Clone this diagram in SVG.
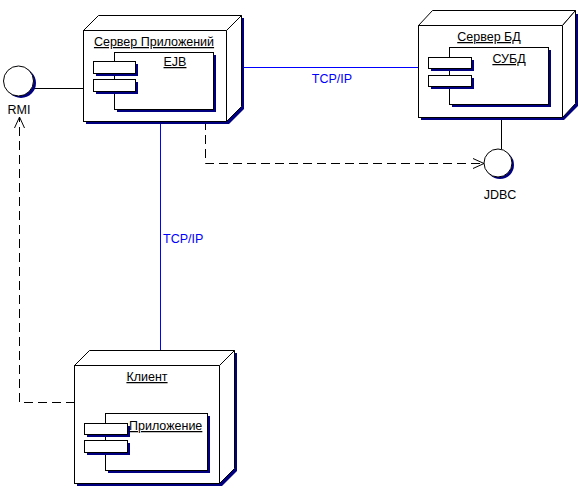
<svg xmlns="http://www.w3.org/2000/svg" width="582" height="496" viewBox="0 0 582 496">
<defs>
<style>
.f{fill:#fff;stroke:#000;stroke-width:1}
.sh{fill:#000080;stroke:none}
.t{font-family:"Liberation Sans",Arial,sans-serif;font-size:12.5px;fill:#000}
.u{text-decoration:underline}
.b{fill:#0000ff}
.ln{stroke:#000;stroke-width:1;fill:none}
.bl{stroke:#0000ff;stroke-width:1;fill:none}
.d{stroke:#000;stroke-width:1;fill:none;stroke-dasharray:9,5}
</style>
<marker id="open" markerWidth="14" markerHeight="12" refX="12" refY="6" orient="auto" markerUnits="userSpaceOnUse">
<path d="M1,1 L12,6 L1,11" fill="none" stroke="#000" stroke-width="1"/>
</marker>
</defs>
<rect width="582" height="496" fill="#fff"/>

<g id="connectors">
<line class="ln" x1="33" y1="88.5" x2="93" y2="88.5"/>
<line class="bl" x1="241" y1="67.5" x2="418" y2="67.5"/>
<text class="t b" x="332" y="83" text-anchor="middle">TCP/IP</text>
<line class="bl" x1="160.5" y1="121" x2="160.5" y2="350"/>
<text class="t b" x="163" y="243">TCP/IP</text>
<line class="ln" x1="501.5" y1="104" x2="501.5" y2="149"/>
<polyline class="d" points="205.5,121 205.5,163.5 484,163.5" marker-end="url(#open)"/>
<polyline class="d" points="75,402.5 19.5,402.5 19.5,117" marker-end="url(#open)"/>
</g>

<g id="rmi">
<circle class="sh" cx="21" cy="83" r="15"/>
<circle class="f" cx="18.5" cy="81" r="15"/>
<text class="t" x="19" y="114" text-anchor="middle">RMI</text>
</g>

<g id="jdbc">
<circle class="sh" cx="500" cy="165" r="14"/>
<circle class="f" cx="498" cy="163" r="14"/>
<text class="t" x="500" y="199" text-anchor="middle">JDBC</text>
</g>

<g id="app-server">
<polygon class="sh" points="86,124 86,33 101,18 244,18 244,109 229,124"/>
<rect class="f" x="83.5" y="30.5" width="143" height="91"/>
<polygon class="f" points="83.5,30.5 98.5,15.5 241.5,15.5 226.5,30.5"/>
<polygon class="f" points="226.5,30.5 241.5,15.5 241.5,106.5 226.5,121.5"/>
<text class="t u" x="154" y="46" text-anchor="middle">Сервер Приложений</text>
<g id="ejb">
<rect class="sh" x="117" y="55" width="99" height="57"/>
<rect class="f" x="114.5" y="52.5" width="99" height="57"/>
<rect class="sh" x="96" y="64" width="42" height="12"/>
<rect class="f" x="93.5" y="61.5" width="42" height="12"/>
<rect class="sh" x="96" y="82" width="42" height="12"/>
<rect class="f" x="93.5" y="79.5" width="42" height="12"/>
<text class="t u" x="175" y="66" text-anchor="middle">EJB</text>
</g>
</g>

<g id="db-server">
<polygon class="sh" points="421,120 421,28 435,14 578,14 578,106 564,120"/>
<rect class="f" x="418.5" y="25.5" width="144" height="92"/>
<polygon class="f" points="418.5,25.5 432.5,10.5 575.5,10.5 562.5,25.5"/>
<polygon class="f" points="562.5,25.5 575.5,10.5 575.5,103.5 562.5,117.5"/>
<text class="t u" x="489" y="41" text-anchor="middle">Сервер БД</text>
<g id="subd">
<rect class="sh" x="452" y="50" width="99" height="57"/>
<rect class="f" x="449.5" y="47.5" width="99" height="57"/>
<rect class="sh" x="431" y="60" width="43" height="11"/>
<rect class="f" x="428.5" y="57.5" width="43" height="11"/>
<rect class="sh" x="431" y="78" width="43" height="11"/>
<rect class="f" x="428.5" y="75.5" width="43" height="11"/>
<text class="t u" x="509" y="63" text-anchor="middle">СУБД</text>
</g>
</g>

<g id="client">
<polygon class="sh" points="77,486 77,368 92,353 237,353 237,471 222,486"/>
<rect class="f" x="74.5" y="365.5" width="145" height="118"/>
<polygon class="f" points="74.5,365.5 89.5,350.5 234.5,350.5 219.5,365.5"/>
<polygon class="f" points="219.5,365.5 234.5,350.5 234.5,468.5 219.5,483.5"/>
<text class="t u" x="147" y="381" text-anchor="middle">Клиент</text>
<g id="app">
<rect class="sh" x="108" y="416" width="102" height="57"/>
<rect class="f" x="105.5" y="413.5" width="102" height="57"/>
<rect class="sh" x="87" y="426" width="43" height="11"/>
<rect class="f" x="84.5" y="423.5" width="43" height="11"/>
<rect class="sh" x="87" y="443" width="43" height="12"/>
<rect class="f" x="84.5" y="440.5" width="43" height="12"/>
<text class="t u" x="129" y="430">Приложение</text>
</g>
</g>
</svg>
